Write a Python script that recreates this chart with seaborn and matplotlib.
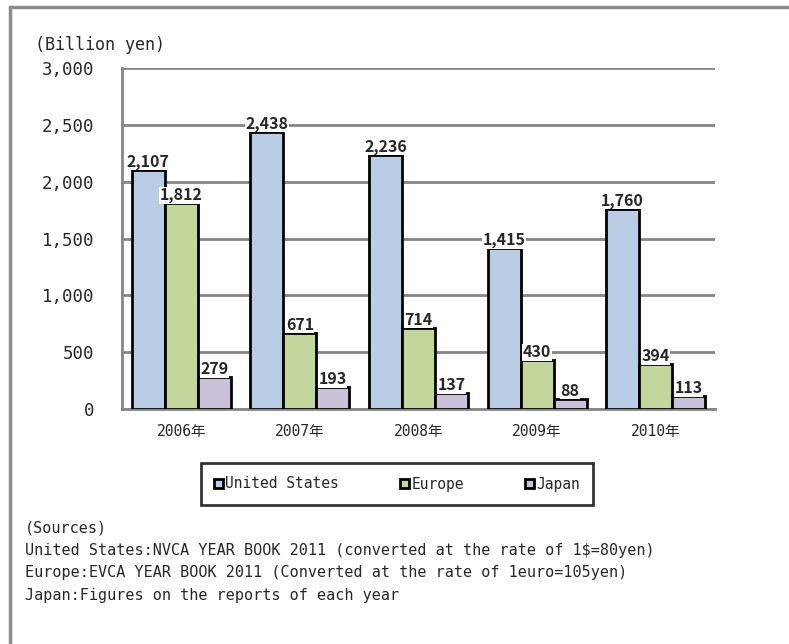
"""Venture capital investment by region, 2006-2010."""
import pandas as pd
import matplotlib.pyplot as plt
import seaborn as sns
from matplotlib.lines import Line2D
from matplotlib.patches import Patch

years = ['2006年', '2007年', '2008年', '2009年', '2010年']
regions = ['United States', 'Europe', 'Japan']
us_values = [2107, 2438, 2236, 1415, 1760]
europe_values = [1812, 671, 714, 430, 394]
japan_values = [279, 193, 137, 88, 113]
y_ticks = [0, 500, 1000, 1500, 2000, 2500, 3000]
colors = ['#B9CDE5', '#C3D69B', '#CCC1DA']

sources = [
    '(Sources)',
    'United States:NVCA YEAR BOOK 2011 (converted at the rate of 1$=80yen)',
    'Europe:EVCA YEAR BOOK 2011 (Converted at the rate of 1euro=105yen)',
    'Japan:Figures on the reports of each year',
]

df = pd.DataFrame({
    'year': years * 3,
    'region': [r for r in regions for _ in years],
    'value': us_values + europe_values + japan_values,
})

sns.set_style('white')
mono = ['DejaVu Sans Mono', 'Noto Sans CJK JP']
plt.rcParams['font.family'] = mono

fig = plt.figure(figsize=(7.89, 6.44), dpi=100)
ax = fig.add_axes([0.1546, 0.3649, 0.7516, 0.5295])

sns.barplot(data=df, x='year', y='value', hue='region', hue_order=regions,
            palette=colors, width=0.835, gap=0, edgecolor='black',
            linewidth=2, saturation=1, legend=False, ax=ax, zorder=3)

# Value labels on white boxes above each bar
for container in ax.containers:
    texts = ax.bar_label(container, fmt='{:,.0f}', padding=0,
                         fontsize=11.5, fontweight='bold', zorder=4,
                         family=['Noto Sans CJK JP', 'DejaVu Sans'])
    for t in texts:
        t.set_bbox(dict(facecolor='white', edgecolor='none', pad=0.3))

ax.set_ylim(0, 3000)
ax.set_yticks(y_ticks)
ax.set_yticklabels([f'{v:,}' for v in y_ticks], fontsize=12.5)
ax.tick_params(axis='y', length=0, pad=20)
ax.tick_params(axis='x', length=0, labelsize=10.5, pad=11)
ax.set_xlabel('')
ax.set_ylabel('')
ax.yaxis.grid(True, color='#858585', linewidth=2, zorder=0)
ax.set_axisbelow(True)
for side in ['top', 'right']:
    ax.spines[side].set_visible(False)
for side in ['left', 'bottom']:
    ax.spines[side].set_color('#858585')
    ax.spines[side].set_linewidth(2)

fig.text(35 / 789, 1 - 45 / 644, '(Billion yen)', fontsize=12, va='center')

# Legend
handles = [Patch(facecolor=c, edgecolor='black', linewidth=2) for c in colors]
leg = fig.legend(handles, regions, ncol=3, loc='center',
                 bbox_to_anchor=(397 / 789, 1 - 484 / 644), fontsize=10.5,
                 frameon=True, fancybox=False, handlelength=0.6,
                 handleheight=0.6, handletextpad=0.15, columnspacing=4.2,
                 borderpad=0.9, borderaxespad=0)
leg.get_frame().set_edgecolor('black')
leg.get_frame().set_linewidth(2)

# Sources
for i, line in enumerate(sources):
    fig.text(25 / 789, 1 - (528 + i * 22.5) / 644, line, fontsize=10.9,
             va='center')

# Outer frame (top and left only)
fig.add_artist(Line2D([10 / 789, 1], [1 - 7 / 644, 1 - 7 / 644],
                      color='#8c8c8c', linewidth=2.5))
fig.add_artist(Line2D([10 / 789, 10 / 789], [0, 1 - 7 / 644],
                      color='#8c8c8c', linewidth=2.5))

plt.savefig('out.png', dpi=100)
plt.close()
